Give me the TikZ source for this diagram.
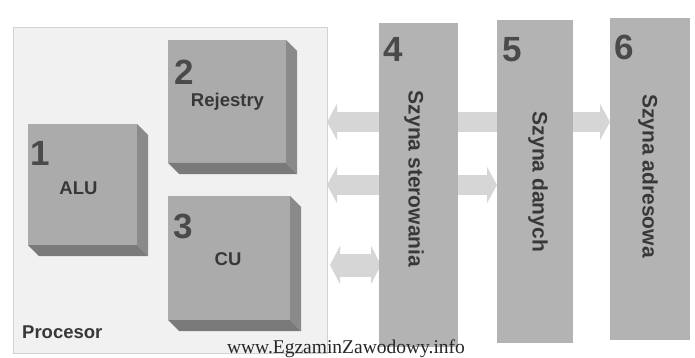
\documentclass[tikz,border=0pt]{standalone}
\usepackage{fontspec}
\setmainfont{Liberation Sans}
\newfontfamily\wmfont{Liberation Serif}
\usetikzlibrary{arrows.meta,backgrounds}
\definecolor{panelfill}{HTML}{F1F1F1}
\definecolor{panelline}{HTML}{D2D2D2}
\definecolor{cubefront}{HTML}{ABABAB}
\definecolor{cuberight}{HTML}{8A8A8A}
\definecolor{cubebottom}{HTML}{7A7A7A}
\definecolor{busfill}{HTML}{B3B3B3}
\definecolor{arrowfill}{HTML}{D6D6D6}
\definecolor{labeltext}{HTML}{383838}
\definecolor{numtext}{HTML}{4A4A4A}
\begin{document}
\begin{tikzpicture}[x=1pt,y=-1pt,
  panel/.style={fill=panelfill,draw=panelline,line width=0.8pt,inner sep=0pt,outer sep=0pt},
  cubebox/.style={fill=cubefront,inner sep=0pt,outer sep=0pt},
  sideright/.style={fill=cuberight},
  sidebottom/.style={fill=cubebottom},
  busbox/.style={fill=busfill,inner sep=0pt,outer sep=0pt},
  numlabel/.style={text=numtext,font=\fontsize{35}{36}\selectfont\bfseries,inner sep=0pt,anchor=base},
  boxlabel/.style={text=labeltext,font=\fontsize{18.5}{20}\selectfont\bfseries,inner sep=0pt,anchor=base},
  buslabel/.style={text=labeltext,font=\fontsize{21}{22}\selectfont\bfseries,inner sep=0pt,rotate=-90},
  blockarrow/.style={draw=arrowfill,line width=20pt,{Triangle[length=10pt,width=36pt]}-{Triangle[length=10pt,width=36pt]}},
  blockarrowb/.style={draw=arrowfill,line width=23pt,{Triangle[length=10pt,width=38pt]}-{Triangle[length=10pt,width=38pt]}}
]
\useasboundingbox (0,0) rectangle (695,358);

% processor panel
\node[panel,minimum width=314pt,minimum height=326pt] (proc) at (170,190) {};
\node[boxlabel,anchor=base west] (proclabel) at (22,338) {Procesor};

% cubes
\node[cubebox,minimum width=109pt,minimum height=121pt] (alu) at (82.5,184.5) {};
\node[cubebox,minimum width=118pt,minimum height=123pt] (rej) at (227,101.5) {};
\node[cubebox,minimum width=122pt,minimum height=124pt] (cu) at (229,258) {};
\foreach \c in {alu,rej,cu}{
  \fill[sideright] (\c.north east) -- ++(11,11) -- ([shift={(11,11)}]\c.south east) -- (\c.south east) -- cycle;
  \fill[sidebottom] (\c.south west) -- ++(11,11) -- ([shift={(11,11)}]\c.south east) -- (\c.south east) -- cycle;
}
\node[numlabel] (n1) at (40,165) {1};
\node[boxlabel] (alulabel) at (78.5,194) {ALU};
\node[numlabel] (n2) at (184,85) {2};
\node[boxlabel] (rejlabel) at (227.5,107) {Rejestry};
\node[numlabel] (n3) at (183.5,238) {3};
\node[boxlabel] (culabel) at (228,265) {CU};

% buses
\node[busbox,minimum width=79pt,minimum height=324pt] (b4) at (418.5,185) {};
\node[busbox,minimum width=76pt,minimum height=323pt] (b5) at (535,181.5) {};
\node[busbox,minimum width=80pt,minimum height=322pt] (b6) at (650,179) {};
\node[numlabel] (n4) at (393,62) {4};
\node[numlabel] (n5) at (512.5,62) {5};
\node[numlabel] (n6) at (624,60) {6};
\node[buslabel] (l4) at (414,179) {Szyna sterowania};
\node[buslabel] (l5) at (538,182) {Szyna danych};
\node[buslabel] (l6) at (648,176) {Szyna adresowa};

% arrows (behind buses)
\coordinate (ya) at (0,122);
\coordinate (yb) at (0,185);
\coordinate (yc) at (0,265);
\begin{pgfonlayer}{background}
\draw[blockarrow] (proc.east |- ya) -- (b6.west |- ya);
\draw[blockarrow] (proc.east |- yb) -- (b5.west |- yb);
\draw[blockarrowb] ([xshift=3pt]proc.east |- yc) -- ([xshift=2pt]b4.west |- yc);
\end{pgfonlayer}

% watermark
\node[font=\wmfont\fontsize{19.5}{22}\selectfont,text=black!85,inner sep=0pt,anchor=base] (wm) at (346,353) {www.EgzaminZawodowy.info};
\end{tikzpicture}
\end{document}
